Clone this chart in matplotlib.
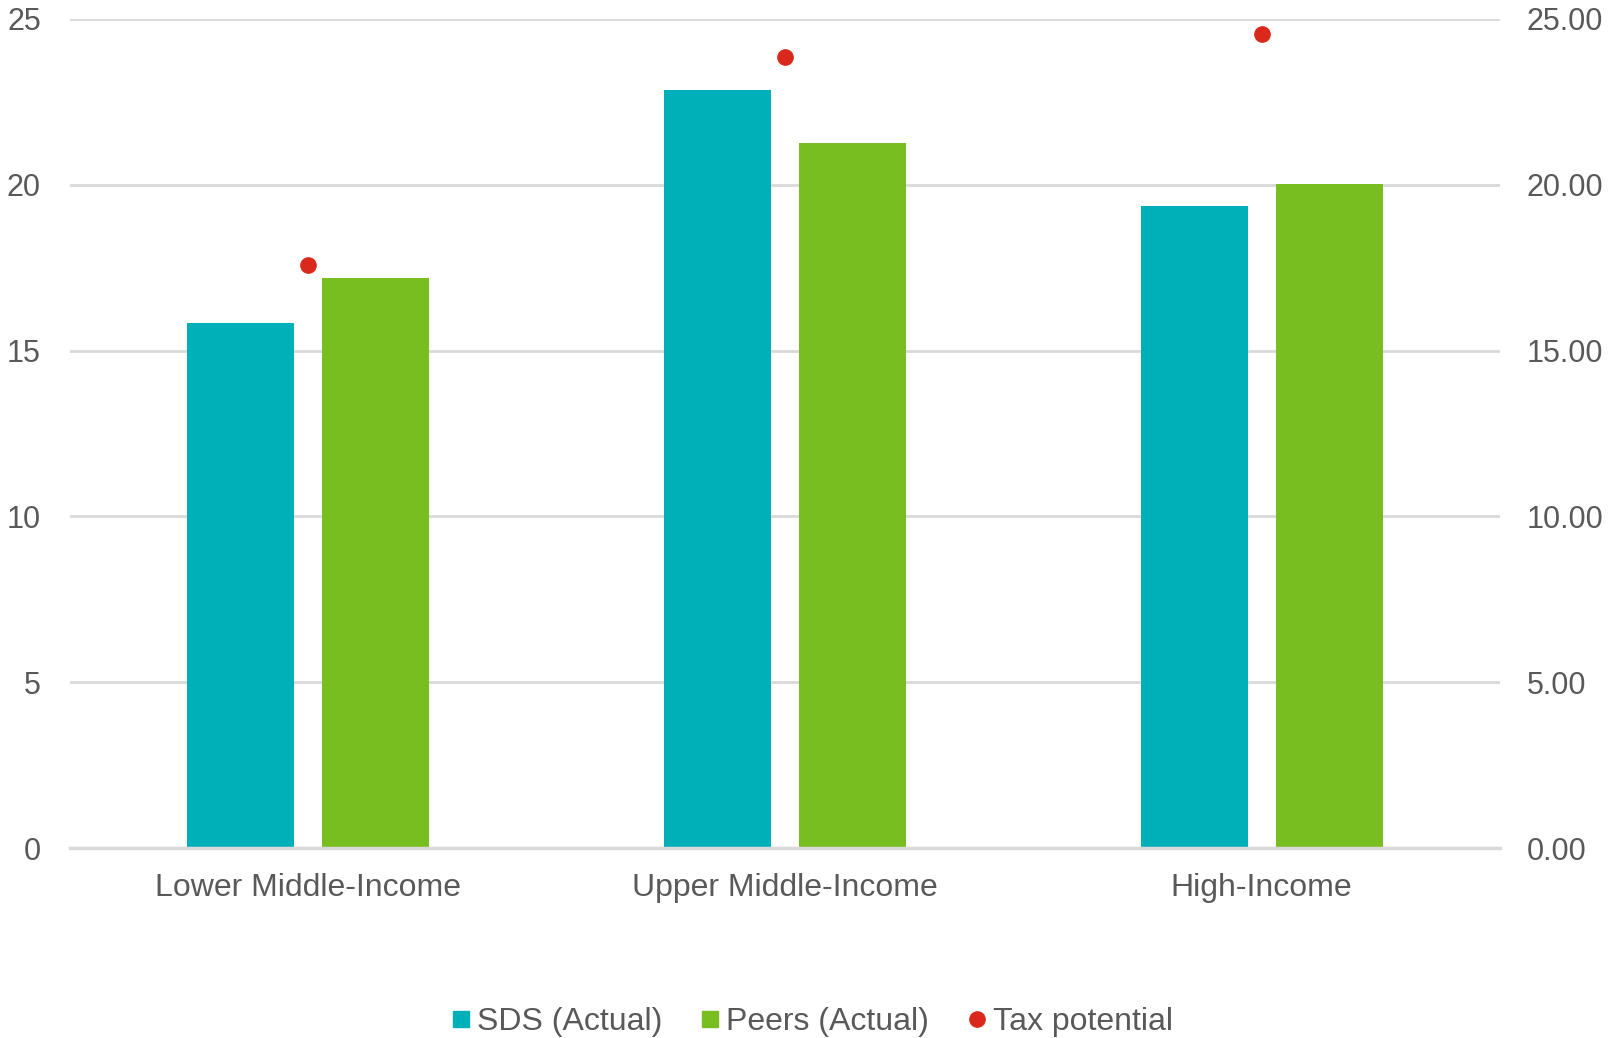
import matplotlib
matplotlib.use("Agg")
import matplotlib.pyplot as plt
import numpy as np
from matplotlib.lines import Line2D
from matplotlib.ticker import FuncFormatter

categories = ["Lower Middle-Income", "Upper Middle-Income", "High-Income"]
sds_actual = [15.82, 22.87, 19.37]
peers_actual = [17.18, 21.26, 20.01]
tax_potential = [17.58, 23.86, 24.55]
left_ticks = [0, 5, 10, 15, 20, 25]

plt.rcParams['font.family'] = ['Liberation Sans', 'DejaVu Sans']
TXT = '#595959'
GRID = '#d9d9d9'
TEAL = '#00b0b9'
GREEN = '#78be20'
RED = '#da291c'
FS = 23
TFS = 22

fig = plt.figure(figsize=(16.14, 10.38), dpi=100)
ax = fig.add_axes([70/1614, 1-848/1038, 1430/1614, 829/1038])

x = np.arange(len(categories))
w = 0.2245
off = 0.1415
ax.bar(x - off, sds_actual, width=w, color=TEAL, zorder=2)
ax.bar(x + off, peers_actual, width=w, color=GREEN, zorder=2)

ax.set_xlim(-0.5, len(categories) - 0.5)
ax.set_ylim(0, 25)
ax.set_yticks(left_ticks)
ax.yaxis.grid(True, color=GRID, linewidth=2)
ax.set_axisbelow(True)
for s in ['top', 'right', 'left']:
    ax.spines[s].set_visible(False)
ax.spines['bottom'].set_color(GRID)
ax.spines['bottom'].set_linewidth(2.5)
ax.set_xticks(x)
ax.set_xticklabels(categories)
ax.tick_params(axis='x', length=0, pad=18, labelsize=FS, labelcolor=TXT)
ax.tick_params(axis='y', length=0, pad=21, labelsize=TFS, labelcolor=TXT)

ax2 = ax.twinx()
ax2.set_ylim(0, 25)
ax2.set_yticks(left_ticks)
ax2.yaxis.set_major_formatter(FuncFormatter(lambda v, p: f"{v:.2f}"))
ax2.tick_params(axis='y', length=0, pad=19, labelsize=TFS, labelcolor=TXT)
for s in ax2.spines.values():
    s.set_visible(False)
ax2.plot(x, tax_potential, linestyle='none', marker='o', markersize=11,
         color=RED, zorder=3)

handles = [
    Line2D([], [], linestyle='none', marker='s', markersize=11, color=TEAL),
    Line2D([], [], linestyle='none', marker='s', markersize=11, color=GREEN),
    Line2D([], [], linestyle='none', marker='o', markersize=11, color=RED),
]
labels = ["SDS (Actual)", "Peers (Actual)", "Tax potential"]
leg = fig.legend(handles, labels, loc='center', bbox_to_anchor=(812/1614, 1-1022/1038),
                 ncol=3, frameon=False, fontsize=FS, handlelength=0.6,
                 handletextpad=0.2, columnspacing=1.2, borderaxespad=0)
for t in leg.get_texts():
    t.set_color(TXT)

fig.savefig("out.png", dpi=100)
